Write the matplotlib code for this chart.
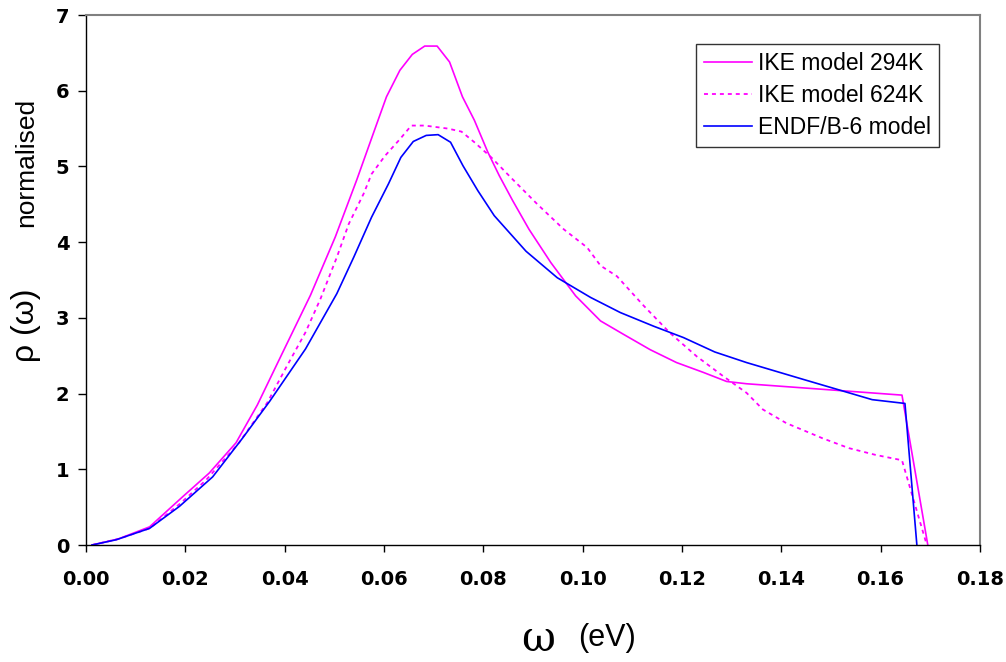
import numpy as np
import matplotlib.pyplot as plt

# phonon frequency distributions, omega in eV
omega_294 = [0.0012, 0.0065, 0.0128, 0.0195, 0.0248, 0.0302, 0.0345, 0.0395, 0.0452,
             0.0502, 0.0545, 0.0582, 0.0605, 0.0632, 0.0657, 0.0682, 0.0707, 0.0732,
             0.0758, 0.0782, 0.0809, 0.0832, 0.0859, 0.0892, 0.0936, 0.0986, 0.1036,
             0.1083, 0.1136, 0.1189, 0.1243, 0.1290, 0.1330, 0.1643, 0.1695]
rho_294 = [0.0, 0.08, 0.24, 0.64, 0.95, 1.35, 1.85, 2.53, 3.30,
           4.07, 4.82, 5.50, 5.92, 6.27, 6.48, 6.59, 6.59, 6.38,
           5.92, 5.61, 5.19, 4.88, 4.55, 4.17, 3.73, 3.29, 2.96,
           2.78, 2.58, 2.41, 2.28, 2.16, 2.13, 1.98, 0.0]

omega_624 = [0.0012, 0.0065, 0.0128, 0.0190, 0.0242, 0.0308, 0.0365, 0.0405, 0.0442,
             0.0472, 0.0505, 0.0529, 0.0559, 0.0575, 0.0602, 0.0632, 0.0655, 0.0682,
             0.0729, 0.0756, 0.0782, 0.0816, 0.0856, 0.0909, 0.0962, 0.1009, 0.1036,
             0.1069, 0.1123, 0.1176, 0.1230, 0.1283, 0.1330, 0.1363, 0.1410, 0.1443,
             0.1483, 0.1536, 0.1590, 0.1643, 0.1693]
rho_624 = [0.0, 0.08, 0.22, 0.55, 0.86, 1.35, 1.88, 2.37, 2.81,
           3.25, 3.80, 4.24, 4.64, 4.90, 5.14, 5.36, 5.54, 5.54,
           5.50, 5.46, 5.32, 5.12, 4.85, 4.50, 4.17, 3.93, 3.69,
           3.55, 3.16, 2.80, 2.49, 2.23, 2.01, 1.79, 1.61, 1.52,
           1.41, 1.28, 1.19, 1.12, 0.0]

omega_endf = [0.0012, 0.0061, 0.0128, 0.0188, 0.0255, 0.0315, 0.0370, 0.0442, 0.0505,
              0.0539, 0.0575, 0.0609, 0.0634, 0.0659, 0.0685, 0.0709, 0.0734, 0.0759,
              0.0789, 0.0822, 0.0886, 0.0949, 0.1016, 0.1076, 0.1143, 0.1203, 0.1266,
              0.1330, 0.1443, 0.1583, 0.1649, 0.1673]
rho_endf = [0.0, 0.07, 0.22, 0.51, 0.90, 1.41, 1.90, 2.59, 3.32,
            3.80, 4.33, 4.77, 5.12, 5.33, 5.41, 5.42, 5.32, 5.01,
            4.68, 4.35, 3.88, 3.53, 3.27, 3.07, 2.89, 2.74, 2.55,
            2.41, 2.19, 1.92, 1.87, 0.0]

labels = ["IKE model 294K", "IKE model 624K", "ENDF/B-6 model"]
xticks = np.arange(0, 0.181, 0.02)
yticks = np.arange(0, 8, 1)

plt.rcParams['font.family'] = ['Liberation Sans', 'DejaVu Sans']

fig = plt.figure(figsize=(10.06, 6.62), dpi=100)
ax = fig.add_axes([0.0855, 0.1767, 0.8886, 0.8006])

ax.plot(omega_294, rho_294, color="#ff00ff", lw=1.2, label=labels[0])
ax.plot(omega_624, rho_624, color="#ff00ff", lw=1.3, linestyle=(0, (2.2, 2.2)), label=labels[1])
ax.plot(omega_endf, rho_endf, color="#0000ff", lw=1.2, label=labels[2])

ax.set_xlim(0, 0.18)
ax.set_ylim(0, 7)
ax.set_xticks(xticks)
ax.set_xticklabels(["%.2f" % t for t in xticks], family="DejaVu Sans",
                   fontweight="bold", fontsize=14)
ax.set_yticks(yticks)
ax.set_yticklabels([str(t) for t in yticks], family="DejaVu Sans",
                   fontweight="bold", fontsize=14)
ax.tick_params(axis="x", direction="out", length=5, width=1, pad=13)
ax.tick_params(axis="y", direction="out", length=6, width=1, pad=6)

for side in ["top", "right"]:
    ax.spines[side].set_color("#808080")
    ax.spines[side].set_linewidth(1.5)
for side in ["left", "bottom"]:
    ax.spines[side].set_color("black")
    ax.spines[side].set_linewidth(1.0)

leg = ax.legend(loc="upper left", bbox_to_anchor=(0.682, 0.945), fontsize=16.5,
                frameon=True, fancybox=False, handlelength=2.1, handletextpad=0.25,
                borderpad=0.35, labelspacing=0.38, borderaxespad=0)
leg.get_frame().set_edgecolor("black")
leg.get_frame().set_linewidth(1.0)

# y label: greek part is set larger than the word
fig.text(0.026, 0.754, "normalised", rotation=90, fontsize=19,
         ha="center", va="center")
fig.text(0.026, 0.509, "ρ (ω)", rotation=90, fontsize=23,
         ha="center", va="center")
fig.text(0.535, 0.034, "ω", fontsize=30, ha="center", va="center", family="DejaVu Serif")
fig.text(0.603, 0.036, "(eV)", fontsize=22, ha="center", va="center")

fig.savefig("out.png", dpi=100)
